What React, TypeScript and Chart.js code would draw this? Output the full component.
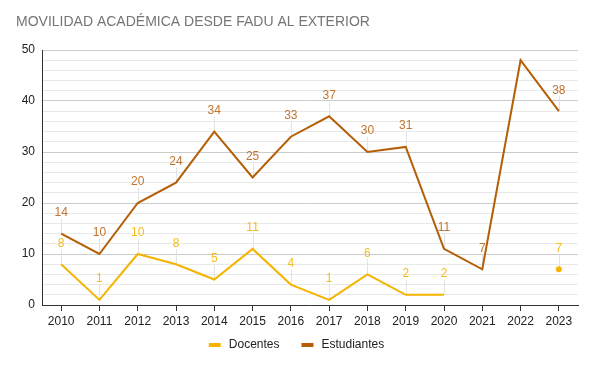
import React, { useEffect, useRef } from "react";
import { Chart, registerables } from "chart.js";

Chart.register(...registerables);

const TITLE = "MOVILIDAD ACADÉMICA DESDE FADU AL EXTERIOR";
const years = ["2010", "2011", "2012", "2013", "2014", "2015", "2016", "2017", "2018", "2019", "2020", "2021", "2022", "2023"];
const docentes: (number | null)[] = [8, 1, 10, 8, 5, 11, 4, 1, 6, 2, 2, null, null, 7];
const estudiantes: (number | null)[] = [14, 10, 20, 24, 34, 25, 33, 37, 30, 31, 11, 7, 48, 38];
// which points carry a value label (2022 estudiantes has none)
const estudiantesLabeled: boolean[] = [true, true, true, true, true, true, true, true, true, true, true, true, false, true];
const docentesLabeled: boolean[] = [true, true, true, true, true, true, true, true, true, true, true, false, false, true];

const FONT = "'Liberation Sans', Arial, sans-serif";
const DOC_COLOR = "#f4b400";
const EST_COLOR = "#b45f06";
const DOC_LABEL = "#f6bb1a";
const EST_LABEL = "#c0742f";

export default function App() {
  const ref = useRef<HTMLCanvasElement | null>(null);

  useEffect(() => {
    if (!ref.current) return;
    const labelSets = [
      { lab: docentesLabeled, color: DOC_LABEL },
      { lab: estudiantesLabeled, color: EST_LABEL },
    ];
    const plugin = {
      id: "annot",
      beforeDatasetsDraw(chart: any) {
        const ctx = chart.ctx;
        ctx.save();
        ctx.strokeStyle = "#e3e3e3";
        ctx.lineWidth = 1;
        chart.data.datasets.forEach((ds: any, di: number) => {
          const meta = chart.getDatasetMeta(di);
          meta.data.forEach((pt: any, i: number) => {
            if (ds.data[i] == null || !labelSets[di].lab[i]) return;
            const x = Math.round(pt.x) + 0.5;
            ctx.beginPath();
            ctx.moveTo(x, pt.y);
            ctx.lineTo(x, pt.y - 15);
            ctx.stroke();
          });
        });
        ctx.restore();
      },
      afterDatasetsDraw(chart: any) {
        const ctx = chart.ctx;
        ctx.save();
        ctx.font = `12px ${FONT}`;
        ctx.textAlign = "center";
        ctx.textBaseline = "middle";
        chart.data.datasets.forEach((ds: any, di: number) => {
          const meta = chart.getDatasetMeta(di);
          meta.data.forEach((pt: any, i: number) => {
            if (ds.data[i] == null || !labelSets[di].lab[i]) return;
            ctx.fillStyle = labelSets[di].color;
            ctx.fillText(String(ds.data[i]), pt.x, pt.y - 21);
          });
        });
        ctx.restore();
      },
      afterDraw(chart: any) {
        const ctx = chart.ctx;
        ctx.save();
        // title
        ctx.font = `14px ${FONT}`;
        ctx.fillStyle = "#757575";
        ctx.textAlign = "left";
        ctx.textBaseline = "middle";
        ctx.fillText(TITLE, 16, 22);
        // legend
        ctx.font = `12px ${FONT}`;
        const items = chart.data.datasets.map((d: any) => ({ label: d.label, color: d.borderColor }));
        const mw = 12, gap = 8, between = 22;
        const widths = items.map((it: any) => mw + gap + ctx.measureText(it.label).width);
        const total = widths.reduce((a: number, b: number) => a + b, 0) + between * (items.length - 1);
        let x = chart.width / 2 - total / 2;
        const y = 345;
        items.forEach((it: any, k: number) => {
          ctx.fillStyle = it.color;
          ctx.fillRect(x, y - 2, mw, 4);
          ctx.fillStyle = "#222222";
          ctx.textBaseline = "middle";
          ctx.fillText(it.label, x + mw + gap, y);
          x += widths[k] + between;
        });
        ctx.restore();
      },
    };

    const isolated = (c: any) => {
      const d = c.dataset.data;
      const i = c.dataIndex;
      return d[i] != null && d[i - 1] == null && d[i + 1] == null ? 3 : 0;
    };

    const chart = new Chart(ref.current, {
      type: "line",
      data: {
        labels: years,
        datasets: [
          {
            label: "Docentes",
            data: docentes,
            borderColor: DOC_COLOR,
            backgroundColor: DOC_COLOR,
            borderWidth: 2,
            pointRadius: isolated,
            pointHoverRadius: isolated,
            pointBorderWidth: 0,
            spanGaps: false,
            tension: 0,
          },
          {
            label: "Estudiantes",
            data: estudiantes,
            borderColor: EST_COLOR,
            backgroundColor: EST_COLOR,
            borderWidth: 2,
            pointRadius: isolated,
            pointHoverRadius: isolated,
            pointBorderWidth: 0,
            spanGaps: false,
            tension: 0,
          },
        ],
      },
      options: {
        animation: false,
        responsive: false,
        devicePixelRatio: 1,
        layout: { padding: { top: 50, right: 15, left: 0, bottom: 0 } },
        plugins: {
          legend: { display: false },
          title: { display: false },
          tooltip: { enabled: false },
        },
        scales: {
          x: {
            type: "category",
            offset: true,
            afterFit: (s: any) => {
              s.height = 62;
            },
            grid: {
              display: true,
              drawOnChartArea: false,
              drawTicks: true,
              tickLength: 6,
              color: "#333333",
              offset: false,
            },
            border: { display: true, color: "#333333", width: 1 },
            ticks: {
              color: "#222222",
              font: { family: FONT, size: 12 },
              padding: 3,
              maxRotation: 0,
              autoSkip: false,
            },
          },
          y: {
            min: 0,
            max: 50,
            afterFit: (s: any) => {
              s.width = 42;
            },
            grid: {
              drawTicks: false,
              color: (c: any) => (c.tick && c.tick.value % 10 === 0 ? "#cccccc" : "#e8e8e8"),
              lineWidth: 1,
            },
            border: { display: true, color: "#333333", width: 1 },
            ticks: {
              stepSize: 2,
              autoSkip: false,
              color: "#222222",
              font: { family: FONT, size: 12 },
              padding: 7,
              callback: (v: any) => (Number(v) % 10 === 0 ? String(v) : ""),
            },
          },
        },
      },
      plugins: [plugin],
    });
    return () => chart.destroy();
  }, []);

  return (
    <div style={{ position: "fixed", left: 0, top: 0, width: 593, height: 367, background: "#fff" }}>
      <canvas ref={ref} width={593} height={367} style={{ display: "block", width: 593, height: 367 }} />
    </div>
  );
}
